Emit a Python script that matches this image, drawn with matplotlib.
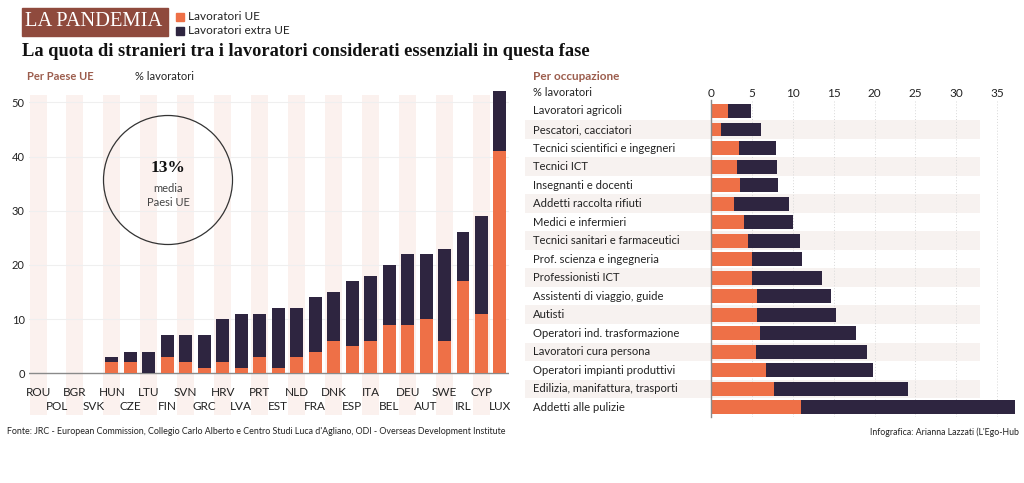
import matplotlib.pyplot as plt
import matplotlib.patches as mpatches
import matplotlib.transforms as mtransforms
import numpy as np

# Per Paese UE
countries = ['ROU', 'POL', 'BGR', 'SVK', 'HUN', 'CZE', 'LTU', 'FIN', 'SVN', 'GRC',
             'HRV', 'LVA', 'PRT', 'EST', 'NLD', 'FRA', 'DNK', 'ESP', 'ITA', 'BEL',
             'DEU', 'AUT', 'SWE', 'IRL', 'CYP', 'LUX']
ue_country = [0, 0, 0, 0, 2, 2, 0, 3, 2, 1, 2, 1, 3, 1, 3, 4, 6, 5, 6, 9, 9, 10, 6, 17, 11, 41]
total_country = [0, 0, 0, 0, 3, 4, 4, 7, 7, 7, 10, 11, 11, 12, 12, 14, 15, 17, 18, 20,
                 22, 22, 23, 26, 29, 52]

# Per occupazione
jobs = ['Lavoratori agricoli', 'Pescatori, cacciatori', 'Tecnici scientifici e ingegneri',
        'Tecnici ICT', 'Insegnanti e docenti', 'Addetti raccolta rifiuti',
        'Medici e infermieri', 'Tecnici sanitari e farmaceutici', 'Prof. scienza e ingegneria',
        'Professionisti ICT', 'Assistenti di viaggio, guide', 'Autisti',
        'Operatori ind. trasformazione', 'Lavoratori cura persona',
        'Operatori impianti produttivi', 'Edilizia, manifattura, trasporti',
        'Addetti alle pulizie']
ue_job = [2.1, 1.3, 3.4, 3.2, 3.6, 2.8, 4.1, 4.5, 5.1, 5.1, 5.6, 5.6, 6.0, 5.5, 6.8, 7.7, 11.0]
total_job = [4.9, 6.1, 8.0, 8.1, 8.2, 9.6, 10.1, 10.9, 11.2, 13.6, 14.7, 15.3, 17.8, 19.1,
             19.8, 24.1, 37.2]

ORANGE = '#ee7047'
DARK = '#2e2540'
BROWN = '#8f4a3d'
BROWN_TXT = '#9c5d4d'
TXT = '#222222'
SANS = 'Lato'
SERIF = 'Liberation Serif'

W, H = 1024, 483
fig = plt.figure(figsize=(W / 100, H / 100), dpi=100)
fig.patch.set_facecolor('white')


def fx(px):
    return px / W


def fy(py):
    return 1 - py / H


# header
fig.patches.append(mpatches.Rectangle((fx(22), fy(36)), fx(146), 28 / H,
                                      transform=fig.transFigure, color=BROWN))
fig.text(fx(94), fy(22), 'LA PANDEMIA', color='white', family=SERIF, fontsize=14.8,
         ha='center', va='center')
fig.patches.append(mpatches.Rectangle((fx(176), fy(21)), fx(8), 8 / H,
                                      transform=fig.transFigure, color=ORANGE))
fig.patches.append(mpatches.Rectangle((fx(176), fy(35)), fx(8), 8 / H,
                                      transform=fig.transFigure, color=DARK))
fig.text(fx(188), fy(16), 'Lavoratori UE', family=SANS, fontsize=8.5, color=TXT, va='center')
fig.text(fx(188), fy(30), 'Lavoratori extra UE', family=SANS, fontsize=8.5, color=TXT, va='center')

fig.text(fx(22), fy(52), 'La quota di stranieri tra i lavoratori considerati essenziali in questa fase',
         family=SERIF, fontweight='bold', fontsize=13.2, color='#111111', va='center')

fig.text(fx(27), fy(77), 'Per Paese UE', family=SANS, fontweight='bold', fontsize=8,
         color=BROWN_TXT, va='center')
fig.text(fx(135), fy(77), '% lavoratori', family=SANS, fontsize=8, color=TXT, va='center')
fig.text(fx(533), fy(77), 'Per occupazione', family=SANS, fontweight='bold', fontsize=8.5,
         color=BROWN_TXT, va='center')
fig.text(fx(533), fy(93), '% lavoratori', family=SANS, fontsize=8, color=TXT, va='center')

# ---- left chart: by country
scale = 5.42  # px per unit
zero_px = 373.3
top_px, bot_px = 85, 415
ax1 = fig.add_axes([fx(28.8), fy(bot_px), fx(509.2 - 28.8), (bot_px - top_px) / H])
ax1.set_xlim(-0.5, len(countries) - 0.5)
ax1.set_ylim(-(bot_px - zero_px) / scale, (zero_px - top_px) / scale)

x = np.arange(len(countries))
ue_c = np.array(ue_country)
extra_c = np.array(total_country) - ue_c
stripe_bottom = -(bot_px - zero_px) / scale
stripe_top = (zero_px - 95) / scale
ax1.bar(x[::2], stripe_top - stripe_bottom, bottom=stripe_bottom, width=0.92,
        color='#fbf1ee', zorder=0)
for v in range(10, 60, 10):
    ax1.axhline(v, color='#efefef', lw=0.8, zorder=1)
ax1.axhline(0, color='#8a8a8a', lw=1, zorder=2)
ax1.bar(x, ue_c, width=0.7, color=ORANGE, zorder=3)
ax1.bar(x, extra_c, bottom=ue_c, width=0.7, color=DARK, zorder=3)

for i, c in enumerate(countries):
    yy = -3.5 if i % 2 == 0 else -6.15
    ax1.text(i, yy, c, ha='center', va='center', family=SANS, fontsize=8.5, color=TXT)

ax1.set_xticks([])
ax1.set_yticks(range(0, 60, 10))
ax1.tick_params(axis='y', length=0, pad=3, labelsize=8, labelcolor=TXT)
for lab in ax1.get_yticklabels():
    lab.set_family(SANS)
for s in ax1.spines.values():
    s.set_visible(False)

# circle with EU average
fig.patches.append(mpatches.Ellipse((fx(168), fy(180)), 129 / W, 129 / H,
                                    transform=fig.transFigure, fill=False,
                                    edgecolor='#333333', lw=0.9, zorder=5))
fig.text(fx(168), fy(168), '13%', family=SERIF, fontweight='bold', fontsize=12.5,
         ha='center', va='center', color='#111111')
fig.text(fx(168), fy(189), 'media', family=SANS, fontsize=8, ha='center', va='center', color='#444444')
fig.text(fx(168), fy(203), 'Paesi UE', family=SANS, fontsize=8, ha='center', va='center', color='#444444')

# ---- right chart: by occupation
px_unit = 8.19
x0_px = 710.7
row0_px, row_step = 111, 18.52
rtop, rbot = 100, 417
ax2 = fig.add_axes([fx(x0_px), fy(rbot), fx(1015.7 - x0_px), (rbot - rtop) / H])
ax2.set_xlim(0, (1015.7 - x0_px) / px_unit)
ax2.set_ylim((rbot - row0_px) / row_step, -(row0_px - rtop) / row_step)

y = np.arange(len(jobs))
ue_j = np.array(ue_job)
extra_j = np.array(total_job) - ue_j
stripe_left = -(x0_px - 525) / px_unit
stripe_right = (980 - x0_px) / px_unit
ax2.barh(y[1::2], stripe_right - stripe_left, left=stripe_left, height=1.0,
         color='#f7f2f0', zorder=0, clip_on=False)
for v in range(5, 40, 5):
    ax2.axvline(v, color='#d8d8d8', lw=0.7, ls=(0, (1, 2)), zorder=1)
ax2.barh(y, ue_j, height=0.75, color=ORANGE, zorder=3)
ax2.barh(y, extra_j, left=ue_j, height=0.75, color=DARK, zorder=3)

lab_tr = mtransforms.blended_transform_factory(fig.transFigure, ax2.transData)
for i, j in enumerate(jobs):
    ax2.text(fx(533), i, j, transform=lab_tr, ha='left', va='center', family=SANS,
             fontsize=8.1, color=TXT)

ax2.xaxis.tick_top()
ax2.set_xticks(range(0, 40, 5))
ax2.tick_params(axis='x', length=0, pad=1, labelsize=8.5, labelcolor=TXT)
for lab in ax2.get_xticklabels():
    lab.set_family(SANS)
ax2.set_yticks([])
for s in ['top', 'right', 'bottom']:
    ax2.spines[s].set_visible(False)
ax2.spines['left'].set_color('#8a8a8a')
ax2.spines['left'].set_linewidth(1)
ax2.spines['left'].set_zorder(4)

# footer
fig.text(fx(7), fy(432),
         "Fonte: JRC - European Commission, Collegio Carlo Alberto e Centro Studi Luca d'Agliano, "
         "ODI - Overseas Development Institute",
         family=SANS, fontsize=6.4, color=TXT, va='center')
fig.text(fx(1019), fy(432), "Infografica: Arianna Lazzati (L'Ego-Hub", family=SANS,
         fontsize=6.3, color=TXT, va='center', ha='right')

fig.savefig('out.png', dpi=100, facecolor='white')
